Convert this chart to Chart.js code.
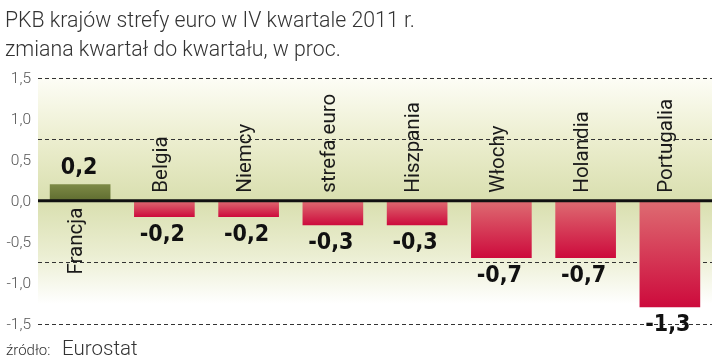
<!doctype html>
<html>
<head>
<meta charset="utf-8">
<title>PKB krajów strefy euro</title>
<script src="https://cdn.jsdelivr.net/npm/chart.js"></script>
<style>
  body { margin: 0; background: #fff; }
  #wrap { position: relative; width: 720px; height: 364px; }
  #title { position: absolute; left: 5px; top: 5px; font: 300 21.3px Roboto, sans-serif; color: #333; line-height: 29px; }
  #src { position: absolute; left: 6px; top: 336px; font: 300 15px Roboto, sans-serif; color: #333; }
  #src span { font-size: 20.5px; margin-left: 8px; }
  .yl { position: absolute; font: 300 15.5px Roboto, sans-serif; color: #555; line-height: 18px; text-align: right; width: 40px; }
</style>
</head>
<body>
<div id="wrap">
  <canvas id="wykres" width="720" height="364"></canvas>
  <div id="title">PKB krajów strefy euro w IV kwartale 2011 r.<br>zmiana kwartał do kwartału, w proc.</div>
  <div id="src">źródło: <span>Eurostat</span></div>
</div>
<script>
  const kraje = ['Francja', 'Belgia', 'Niemcy', 'strefa euro', 'Hiszpania', 'Włochy', 'Holandia', 'Portugalia'];
  const zmiana = [0.2, -0.2, -0.2, -0.3, -0.3, -0.7, -0.7, -1.3];
  const osY = [-1.5, -1, -0.5, 0, 0.5, 1, 1.5];
  const linie = [-1.5, -0.75, 0.75, 1.5];

  const fmt = v => v.toFixed(1).replace('.', ',');

  function kolor(ctx) {
    const v = zmiana[ctx.dataIndex];
    const plain = v >= 0 ? '#6d7b3b' : '#d63450';
    const y = ctx.chart.scales.y;
    if (!y) return plain;
    const p0 = y.getPixelForValue(0), p1 = y.getPixelForValue(v);
    if (!isFinite(p0) || !isFinite(p1) || p0 === p1) return plain;
    const g = ctx.chart.ctx.createLinearGradient(0, p0, 0, p1);
    if (v >= 0) {
      g.addColorStop(0, '#5f6d30');
      g.addColorStop(1, '#7d8a46');
    } else {
      g.addColorStop(0, '#de6c72');
      g.addColorStop(1, '#cd0a3c');
    }
    return g;
  }

  // tlo wykresu i przerywane linie
  const tlo = {
    id: 'tlo',
    beforeDatasetsDraw(chart) {
      const a = chart.chartArea, c = chart.ctx, y = chart.scales.y;
      const g = c.createLinearGradient(0, a.top, 0, a.bottom);
      g.addColorStop(0, '#fdfdf6');
      g.addColorStop(0.25, '#eceecf');
      g.addColorStop(0.5, '#d9dfaf');
      g.addColorStop(0.72, '#ebeed2');
      g.addColorStop(0.92, '#ffffff');
      g.addColorStop(1, '#ffffff');
      c.save();
      c.fillStyle = g;
      c.fillRect(a.left, a.top, a.right - a.left, a.bottom - a.top);
      c.strokeStyle = '#333';
      c.lineWidth = 1;
      c.setLineDash([4, 3]);
      linie.forEach(v => {
        const py = Math.round(y.getPixelForValue(v)) + 0.5;
        c.beginPath();
        c.moveTo(a.left, py);
        c.lineTo(a.right, py);
        c.stroke();
      });
      c.restore();
    }
  };

  const opisy = {
    id: 'opisy',
    afterDatasetsDraw(chart) {
      const c = chart.ctx, x = chart.scales.x, y = chart.scales.y, a = chart.chartArea;
      const y0 = y.getPixelForValue(0);
      c.save();
      // linia zera
      c.strokeStyle = '#111';
      c.lineWidth = 3;
      c.beginPath();
      c.moveTo(a.left, y0);
      c.lineTo(a.right, y0);
      c.stroke();

      zmiana.forEach((v, i) => {
        const px = x.getPixelForValue(i);
        const py = y.getPixelForValue(v);
        // wartosc
        c.fillStyle = '#111';
        c.font = 'bold 23px "DejaVu Sans Condensed", sans-serif';
        c.textAlign = 'center';
        if (v >= 0) {
          c.textBaseline = 'bottom';
          c.fillText(fmt(v), px - 1, py - 5);
        } else {
          c.textBaseline = 'top';
          c.fillText(fmt(v), px - 2, py + 6);
        }
        // nazwa kraju, pionowo
        c.save();
        c.font = '20.5px Roboto, sans-serif';
        c.fillStyle = '#1a1a1a';
        c.translate(px - 3, y0);
        c.rotate(-Math.PI / 2);
        c.textBaseline = 'middle';
        if (v >= 0) {
          c.textAlign = 'right';
          c.fillText(kraje[i], -7, 0);
        } else {
          c.textAlign = 'left';
          c.fillText(kraje[i], 8, 0);
        }
        c.restore();
      });
      c.restore();
    }
  };

  const wykres = new Chart(document.getElementById('wykres'), {
    type: 'bar',
    data: {
      labels: kraje,
      datasets: [{
        data: zmiana,
        backgroundColor: kolor,
        borderWidth: 0,
        barPercentage: 0.72,
        categoryPercentage: 1
      }]
    },
    options: {
      responsive: false,
      animation: false,
      layout: { padding: { top: 77.7, bottom: 40.3, right: 8, left: 38 } },
      plugins: { legend: { display: false }, tooltip: { enabled: false } },
      scales: {
        x: { display: false },
        y: { display: false, min: -1.5, max: 1.5 }
      }
    },
    plugins: [tlo, opisy]
  });

  // opisy osi Y jako tekst HTML, w miejscach ze skali wykresu
  const wrap = document.getElementById('wrap');
  const sy = wykres.scales.y, left = wykres.chartArea.left;
  osY.forEach(v => {
    const d = document.createElement('div');
    d.className = 'yl';
    d.textContent = fmt(v);
    d.style.left = (left - 47) + 'px';
    d.style.top = (sy.getPixelForValue(v) - 9) + 'px';
    wrap.appendChild(d);
  });
</script>
</body>
</html>
